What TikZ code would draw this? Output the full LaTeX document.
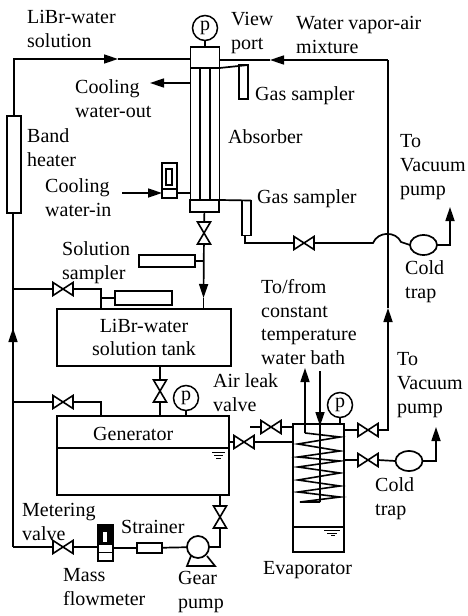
\documentclass[tikz,border=0pt]{standalone}
\usepackage{fontspec}
\usepackage{xcolor}
\usepackage{tikz}
\usetikzlibrary{shapes.geometric, arrows.meta, positioning, calc}
\setmainfont{Liberation Serif}
\tikzset{
    box/.style={draw=black, line width=1.7pt, fill=white, inner sep=0pt, outer sep=0pt},
    pipe/.style={line width=1.7pt, black},
    flow/.style={pipe, -{Triangle[length=14pt,width=9pt]}},
    gauge/.style={circle, draw=black, line width=1.5pt, minimum size=25pt, inner sep=0pt, outer sep=0pt, font=\fontsize{20}{20}\selectfont},
    trap/.style={ellipse, draw=black, line width=1.7pt, minimum width=27pt, minimum height=20pt, inner sep=0pt, outer sep=0pt},
    valve/.style={inner sep=0pt, outer sep=0pt},
    label/.style={align=left, anchor=west, inner sep=0pt, font=\fontsize{20}{23.7}\selectfont}
}
% horizontal and vertical valve
\newcommand{\valveh}[2]{
    \node[valve, minimum width=20pt, minimum height=13pt] (#1) at (#2) {};
    \draw[line width=1.6pt, fill=white] (#1.north west) -- (#1.south east) -- (#1.north east) -- (#1.south west) -- cycle;
}
\newcommand{\valvev}[2]{
    \node[valve, minimum width=13pt, minimum height=22pt] (#1) at (#2) {};
    \draw[line width=1.6pt, fill=white] (#1.north west) -- (#1.south east) -- (#1.south west) -- (#1.north east) -- cycle;
}
\begin{document}
\begin{tikzpicture}[x=1pt, y=-1pt]
    % Background
    \fill[white] (0,0) rectangle (468,616);
    \useasboundingbox (0,0) rectangle (468,616);

    % Absorber
    \node[gauge] (absgauge) at (205,28) {p};
    \node[box, minimum width=29pt, minimum height=21pt] (abshead) at (205,57.5) {};
    \node[box, line width=1.4pt, minimum width=29pt, minimum height=132pt] (abscol) at (205,134) {};
    \node[box, minimum width=29pt, minimum height=12pt] (absbase) at (204.5,206) {};
    \draw[line width=1.3pt] (200,68) -- (200,200);
    \draw[line width=1.3pt] (210,68) -- (210,200);
    \draw[pipe] (absgauge) -- (abshead);

    % Gas samplers
    \node[box, minimum width=9pt, minimum height=34pt] (gastop) at (243.5,82) {};
    \node[box, minimum width=9pt, minimum height=35pt] (gasbot) at (246.5,218) {};
    \draw[pipe] (abscol.north east) -- (gastop.north east);
    \draw[pipe] (abscol.south east) -- (gasbot.north east);

    % Cooling water
    \node[box, minimum width=15pt, minimum height=35pt] (coolmeter) at (169.5,180.5) {};
    \node[box, minimum width=6pt, minimum height=16pt] (coolslot) at (169,177) {};
    \draw[pipe] (162,189) -- (177,189);
    \coordinate (coolout) at (150,83);
    \coordinate (coolin) at (122,193);
    \draw[flow] (abscol.west |- coolout) -- (coolout);
    \draw[flow] (coolin) -- (coolmeter.west |- coolin);
    \draw[pipe] (coolmeter.east |- coolin) -- (abscol.west |- coolin);

    % Heater and solution line
    \node[box, minimum width=14pt, minimum height=97pt] (heater) at (14,164.5) {};
    \coordinate (feedarrow) at (118,59);
    \draw[flow] (heater.north) |- (feedarrow);
    \draw[pipe] (feedarrow) -- (abshead.west |- feedarrow);

    % Vapor line
    \coordinate (vapcorner) at (388,60);
    \coordinate (vaparrow) at (270,60);
    \coordinate (vapup) at (388,308);
    \draw[flow] (vapcorner) -- (vaparrow);
    \draw[pipe] (vaparrow) -- (abshead.east |- vaparrow);

    % Tank and sampler
    \node[box, minimum width=174pt, minimum height=57pt] (tank) at (144,337.5) {};
    \node[box, minimum width=57pt, minimum height=14pt] (solsampler) at (143.5,298) {};
    \node[box, minimum width=56pt, minimum height=12pt] (toptube) at (167,261) {};
    \valvev{absvalve}{204,233}
    \coordinate (tankarrow) at (203.5,298);
    \draw[pipe] (absbase) -- (absvalve);
    \draw[flow] (absvalve) -- (tankarrow);
    \draw[pipe] (tankarrow) -- (tankarrow |- tank.north);
    \draw[pipe] (toptube.east) -- (toptube.east -| tankarrow);

    % Generator
    \node[box, minimum width=172pt, minimum height=79pt] (gen) at (143,455.5) {};
    \node[gauge] (gengauge) at (186,398) {p};
    \valvev{tankvalve}{160,391}
    \draw[pipe] (tank.south -| tankvalve) -- (tankvalve);
    \draw[pipe] (tankvalve) -- (tankvalve |- gen.north);
    \draw[pipe] (gengauge) -- (gengauge |- gen.north);
    \draw[pipe] (57,448) -- (229,448);
    \draw[line width=1pt] (212,452) -- (225,452) (214,455) -- (223,455) (216,458) -- (221,458);

    % Return line with left valves
    \coordinate (mainarrow) at (13,328);
    \coordinate (mainbottom) at (13,547);
    \valveh{samplervalve}{63,289}
    \valveh{genvalve}{63,402}
    \valveh{meterinvalve}{63,547}
    \draw[pipe] (13,213) -- (mainbottom);
    \draw[flow] (13,345) -- (mainarrow);
    \draw[pipe] (samplervalve.west) -- (samplervalve.west -| mainarrow);
    \draw[pipe] (genvalve.west) -- (genvalve.west -| mainarrow);
    \draw[pipe] (samplervalve.east) -| (101,308);
    \draw[pipe] (101,298) -- (solsampler.west);
    \draw[pipe] (genvalve.east) -| (101,416);
    \draw[pipe] (mainbottom) -- (meterinvalve.west);

    % Mass flowmeter, strainer, gear pump
    \node[box, minimum width=15pt, minimum height=36pt] (meter) at (105.5,543) {};
    \fill[black] (98,525) rectangle (113,545);
    \fill[white] (103,532) rectangle (107,542);
    \draw[pipe] (98,552.5) -- (113,552.5);
    \node[box, minimum width=25pt, minimum height=10pt] (strainer) at (149.5,548) {};
    \node[circle, draw=black, line width=1.7pt, fill=white, minimum size=22pt, inner sep=0pt, outer sep=0pt] (pump) at (198,547) {};
    \draw[line width=1.7pt] (191,556) -- (187,566) -- (215,566) -- (207,556);
    \valvev{pumpvalve}{220,517}
    \draw[pipe] (meterinvalve.east) -- (meter.west |- meterinvalve);
    \draw[pipe] (meter.east |- strainer) -- (strainer);
    \draw[pipe] (strainer) -- (pump);
    \draw[pipe] (pump.east) -| (pumpvalve.south);
    \draw[pipe] (pumpvalve.north) -- (pumpvalve.north |- gen.south);

    % Evaporator
    \node[box, fill=none, minimum width=51pt, minimum height=128pt] (evap) at (318.5,488) {};
    \node[gauge] (evapgauge) at (340,405) {p};
    \draw[pipe] (evapgauge) -- (evapgauge |- evap.north);
    \draw[pipe] (293,527) -- (344,527);
    \draw[line width=1pt] (324,530) -- (340,530) (327,533) -- (337,533);
    \draw[line width=1.8pt] (331,535.5) -- (335,535.5);
    \coordinate (coilout) at (305,433);
    \coordinate (coilin) at (320,371);
    \coordinate (bathout) at (305,368);
    \coordinate (coilend) at (320,502);
    \draw[line width=1.6pt] (coilout) -- (340,437) -- (298,444) -- (340,451) -- (298,457) -- (340,461)
        -- (298,467) -- (340,473) -- (298,480) -- (340,486) -- (298,492) -- (340,497) -- (300,502) -- (coilend);
    \draw[pipe] (320,424) -- (coilend);
    \draw[flow] (coilout) -- (bathout);
    \draw[flow] (coilin) -- (320,426);

    % Valves at evaporator
    \coordinate (leakfree) at (250,427);
    \valveh{leakvalve}{271,427}
    \valveh{genoutvalve}{244,442}
    \valveh{vapvalve}{368,430}
    \valveh{lowvalve}{368,460}
    \node[trap] (lowtrap) at (409,461) {};
    \coordinate (lowup) at (436,427);
    \draw[pipe] (leakfree) -- (leakvalve.west);
    \draw[pipe] (leakvalve.east) -- (leakvalve.east -| evap.west);
    \draw[pipe] (gen.east |- genoutvalve) -- (genoutvalve.west);
    \draw[pipe] (genoutvalve.east) -- (genoutvalve.east -| evap.west);
    \draw[pipe] (evap.east |- vapvalve) -- (vapvalve.west);
    \draw[flow] (vapvalve.east) -| (vapup);
    \draw[pipe] (vapup) -- (vapcorner);
    \draw[pipe] (evap.east |- lowvalve) -- (lowvalve.west);
    \draw[pipe] (lowvalve.east) -- (lowtrap.west);
    \draw[flow] (lowtrap.east) -| (lowup);

    % Upper trap line with jump over vapor line
    \valveh{gasvalve}{304,243}
    \node[trap] (uptrap) at (423.5,245) {};
    \coordinate (jumpin) at (373,243);
    \coordinate (jumpout) at (401,242);
    \coordinate (upfree) at (450,207);
    \draw[pipe] (gasbot.south -| 245,0) |- (gasvalve.west);
    \draw[pipe] (gasvalve.east) -- (jumpin) .. controls (378,231) and (396,231) .. (jumpout) -- (uptrap.west);
    \draw[flow] (uptrap.east) -| (upfree);

    % Labels
    \node[label] (lblsolution) at (27,29) {LiBr-water\\solution};
    \node[label] (lblview) at (231,33) {View\\port};
    \node[label] (lblvapor) at (296,35) {Water vapor-air\\mixture};
    \node[label] (lblcoolout) at (75,99) {Cooling\\water-out};
    \node[label] (lblgastop) at (255,96) {Gas sampler};
    \node[label] (lblabsorber) at (228,137) {Absorber};
    \node[label] (lblheater) at (27,148) {Band\\heater};
    \node[label] (lblcoolin) at (45,198) {Cooling\\water-in};
    \node[label] (lblgasbot) at (257,199) {Gas sampler};
    \node[label] (lblvacup) at (400,167) {To\\Vacuum\\pump};
    \node[label] (lblsampler) at (62,263) {Solution\\sampler};
    \node[label] (lbltrapup) at (405,282) {Cold\\trap};
    \node[label] (lblbath) at (261,322) {To/from\\constant\\temperature\\water bath};
    \node[label, align=center, anchor=center] (lbltank) at (tank) {LiBr-water\\solution tank};
    \node[label] (lblleak) at (213,393) {Air leak\\valve};
    \node[label] (lblvaclow) at (397,385) {To\\Vacuum\\pump};
    \node[label] (lblgen) at (93,434) {Generator};
    \node[label] (lbltraplow) at (375,499) {Cold\\trap};
    \node[label] (lblmetering) at (22,522) {Metering\\valve};
    \node[label] (lblstrainer) at (121,527) {Strainer};
    \node[label] (lblmass) at (63,587) {Mass\\flowmeter};
    \node[label] (lblgear) at (178,592) {Gear\\pump};
    \node[label] (lblevap) at (263,570) {Evaporator};
\end{tikzpicture}
\end{document}
